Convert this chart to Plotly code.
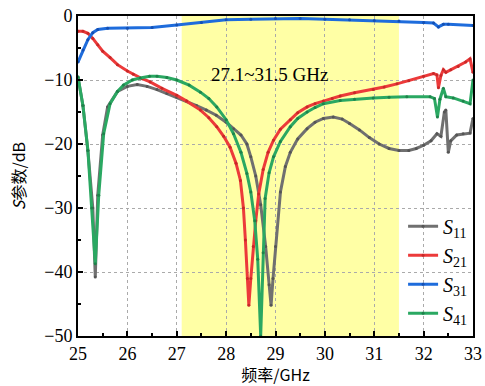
import plotly.graph_objects as go

# ---------------- data ----------------
f_s11 = [25.0, 25.1, 25.2, 25.3, 25.35, 25.4, 25.5, 25.6, 25.8, 26.0, 26.2, 26.4, 26.6, 26.8, 27.0,
         27.2, 27.4, 27.6, 27.8, 28.0, 28.15, 28.3, 28.42, 28.5, 28.6, 28.7, 28.8, 28.87, 28.91, 28.95,
         29.0, 29.1, 29.2, 29.3, 29.45, 29.64, 29.8, 29.97, 30.17, 30.35, 30.5, 30.7, 30.9, 31.1, 31.3,
         31.5, 31.7, 31.85, 32.0, 32.15, 32.27, 32.35, 32.42, 32.45, 32.5, 32.55, 32.67, 32.8, 32.94, 33.0]
s11 = [-9.6, -14, -21, -30, -40.8, -28, -18.6, -14.2, -11.8, -11.0, -10.7, -11.0, -11.5, -12.1, -12.7,
       -13.3, -14.0, -14.7, -15.5, -16.6, -17.6, -18.6, -20.0, -22, -25, -29.5, -36, -42, -45.2, -41,
       -36, -27.5, -23.5, -21.3, -19.2, -17.6, -16.6, -16.0, -15.8, -16.1, -16.8, -17.8, -19.0, -20.0, -20.7,
       -21.0, -21.0, -20.7, -20.2, -19.5, -18.4, -18.8, -15.0, -14.7, -21.3, -19.5, -18.6, -18.4, -18.3, -16.0]

f_s21 = [25.0, 25.1, 25.2, 25.3, 25.4, 25.5, 25.65, 25.8, 26.0, 26.12, 26.3, 26.46, 26.7, 27.0, 27.2,
         27.48, 27.65, 27.81, 27.95, 28.08, 28.2, 28.29, 28.35, 28.39, 28.43, 28.46, 28.5, 28.55, 28.6,
         28.66, 28.75, 28.85, 28.96, 29.1, 29.3, 29.45, 29.64, 29.8, 29.97, 30.15, 30.31, 30.6, 30.98,
         31.2, 31.46, 31.7, 32.0, 32.2, 32.27, 32.3, 32.35, 32.4, 32.45, 32.55, 32.7, 32.85, 32.94, 33.0]
s21 = [-2.4, -2.4, -2.7, -3.5, -4.5, -5.5, -6.5, -7.6, -8.6, -9.1, -9.8, -10.3, -11.3, -12.4, -13.3,
       -14.7, -15.9, -17.3, -18.8, -20.5, -23, -25.7, -30, -35, -41, -45.2, -41, -36, -32,
       -27.8, -24, -21.3, -19.4, -17.7, -16.2, -15.1, -14.2, -13.7, -13.3, -12.9, -12.5, -12.0, -11.5,
       -11.1, -10.6, -10.1, -9.4, -9.0, -9.2, -11.2, -9.3, -8.4, -8.8, -8.4, -7.9, -7.2, -6.7, -8.8]

f_s31 = [25.0, 25.1, 25.2, 25.3, 25.4, 25.6, 26.0, 26.5, 27.0, 27.5, 28.0, 28.5, 29.0, 29.5, 30.0,
         30.5, 31.0, 31.5, 32.0, 32.2, 32.3, 32.4, 32.5, 33.0]
s31 = [-7.2, -5.3, -3.7, -2.6, -2.1, -1.9, -1.9, -1.8, -1.4, -1.0, -0.6, -0.5, -0.4, -0.4, -0.5,
       -0.6, -0.7, -0.8, -1.0, -1.1, -1.7, -1.3, -1.3, -1.5]

f_s41 = [25.0, 25.1, 25.2, 25.28, 25.35, 25.42, 25.52, 25.65, 25.8, 25.92, 26.1, 26.26, 26.45, 26.6,
         26.8, 27.0, 27.25, 27.48, 27.65, 27.81, 28.0, 28.15, 28.3, 28.42, 28.5, 28.58, 28.64, 28.7,
         28.75, 28.79, 28.87, 28.96, 29.1, 29.3, 29.45, 29.64, 29.8, 29.97, 30.31, 30.6, 30.98, 31.3,
         31.66, 32.13, 32.22, 32.28, 32.33, 32.4, 32.45, 32.6, 32.8, 32.94, 33.0]
s41 = [-9.5, -14, -21, -30, -38.7, -28, -18.4, -13.7, -11.8, -10.8, -10.0, -9.7, -9.4, -9.4,
       -9.6, -10.0, -10.8, -11.9, -12.9, -14.2, -16.2, -18.4, -21.3, -24.6, -27.5, -32, -38, -50,
       -37, -28.5, -24.5, -22, -19.6, -17.3, -16.0, -15.0, -14.3, -13.7, -13.2, -13.0, -12.8, -12.7,
       -12.6, -12.6, -12.9, -15.8, -13.0, -11.3, -12.6, -12.8, -13.3, -13.7, -10.0]

band = [27.1, 31.5]
band_label = "27.1~31.5 GHz"
x_ticks = [25, 26, 27, 28, 29, 30, 31, 32, 33]
y_ticks = [0, -10, -20, -30, -40, -50]

series = [
    ("<i>S</i><sub>11</sub>", f_s11, s11, "rgb(112,112,112)", "rgb(85,85,85)"),
    ("<i>S</i><sub>21</sub>", f_s21, s21, "rgb(236,58,58)", "rgb(200,40,40)"),
    ("<i>S</i><sub>31</sub>", f_s31, s31, "rgb(30,108,220)", "rgb(20,80,180)"),
    ("<i>S</i><sub>41</sub>", f_s41, s41, "rgb(42,168,98)", "rgb(30,130,75)"),
]

SERIF = "Liberation Serif, Times New Roman, serif"
CJK = "Noto Sans CJK SC, " + SERIF

fig = go.Figure()
for name, fx, fy, col, mcol in series:
    fig.add_trace(go.Scatter(
        x=fx, y=fy, name=name, mode="lines+markers",
        line=dict(color=col, width=3),
        marker=dict(color=mcol, size=3),
    ))

fig.add_shape(type="rect", xref="x", yref="y", x0=band[0], x1=band[1], y0=-50, y1=0,
              fillcolor="rgb(255,255,165)", line=dict(width=0), layer="below")

fig.add_annotation(x=28.87, y=-9.2, text=band_label, showarrow=False,
                   font=dict(family=SERIF, size=19, color="black"))

axis_common = dict(
    showline=True, linecolor="black", linewidth=2, mirror=True,
    ticks="inside", ticklen=5, tickwidth=1.5, tickcolor="black",
    showgrid=True, gridcolor="rgb(170,170,170)", griddash="dot", gridwidth=1,
    zeroline=False, tickfont=dict(family=SERIF, size=18, color="black"),
    automargin=False,
)

fig.update_xaxes(range=[25, 33], tickvals=x_ticks, **axis_common,
                 minor=dict(ticks="inside", ticklen=3, dtick=0.5, tickcolor="black", showgrid=False),
                 title=dict(text="频率/GHz", font=dict(family=CJK, size=16, color="black")))
fig.update_yaxes(range=[-50, 0], tickvals=y_ticks, **axis_common,
                 minor=dict(ticks="inside", ticklen=3, dtick=5, tickcolor="black", showgrid=False),
                 title=dict(text="<i>S</i>参数/dB", font=dict(family=CJK, size=16, color="black")))

fig.update_layout(
    width=485, height=386,
    margin=dict(l=78, r=12, t=16, b=50),
    plot_bgcolor="white", paper_bgcolor="white",
    showlegend=True,
    legend=dict(x=0.823, y=0.01, xanchor="left", yanchor="bottom",
                bgcolor="rgba(0,0,0,0)", borderwidth=0,
                font=dict(family=SERIF, size=20, color="black"),
                itemwidth=30),
)

fig.write_html("out.html", config={"displayModeBar": False},
               post_script="document.body.style.margin='0';document.body.style.overflow='hidden';")
